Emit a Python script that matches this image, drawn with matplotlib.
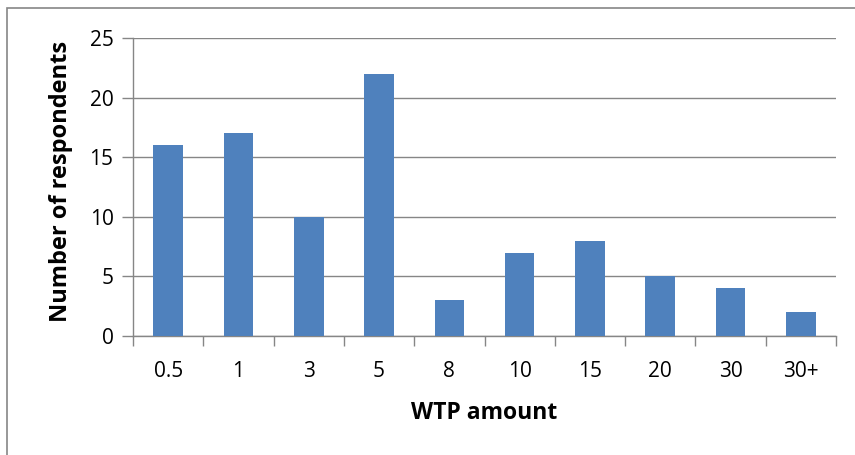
import matplotlib.pyplot as plt
from matplotlib.patches import Rectangle

# WTP amount categories and respondent counts
categories = ["0.5", "1", "3", "5", "8", "10", "15", "20", "30", "30+"]
respondents = [16, 17, 10, 22, 3, 7, 8, 5, 4, 2]

plt.rcParams['font.family'] = ['Open Sans', 'DejaVu Sans']

W, H = 855, 455
fig = plt.figure(figsize=(W / 100, H / 100), dpi=100)

# outer chart frame (top and left edges visible)
fig.patches.append(Rectangle((7 / W, -0.1), 1.2, (H - 8) / H + 0.1,
                             transform=fig.transFigure, fill=False,
                             edgecolor='#868686', linewidth=1.2))

ax = fig.add_axes([133 / W, 1 - 336 / H, (836 - 133) / W, (336 - 38) / H])

grey = '#868686'
x = range(len(categories))
ax.bar(x, respondents, width=0.42, color='#4F81BD', zorder=3)

ax.set_xlim(-0.5, len(categories) - 0.5)
ax.set_ylim(0, 25)
ax.set_yticks(range(0, 26, 5))
ax.yaxis.grid(True, color=grey, linewidth=1.0, zorder=0)

ax.set_xticks(list(x))
ax.set_xticklabels(categories)
ax.set_xticks([i - 0.5 for i in range(len(categories) + 1)], minor=True)
ax.tick_params(axis='x', which='major', length=0, pad=18, labelsize=15)
ax.tick_params(axis='x', which='minor', length=7, color=grey, width=1.0)
ax.tick_params(axis='y', length=8, color=grey, width=1.0, pad=6, labelsize=15)

for side in ['top', 'right']:
    ax.spines[side].set_visible(False)
for side in ['left', 'bottom']:
    ax.spines[side].set_color(grey)
    ax.spines[side].set_linewidth(1.0)

ax.set_xlabel("WTP amount", fontsize=16.5, fontweight='bold', labelpad=14)
ax.set_ylabel("Number of respondents", fontsize=17, fontweight='bold',
              labelpad=12, y=0.52)

fig.savefig("out.png", dpi=100)
